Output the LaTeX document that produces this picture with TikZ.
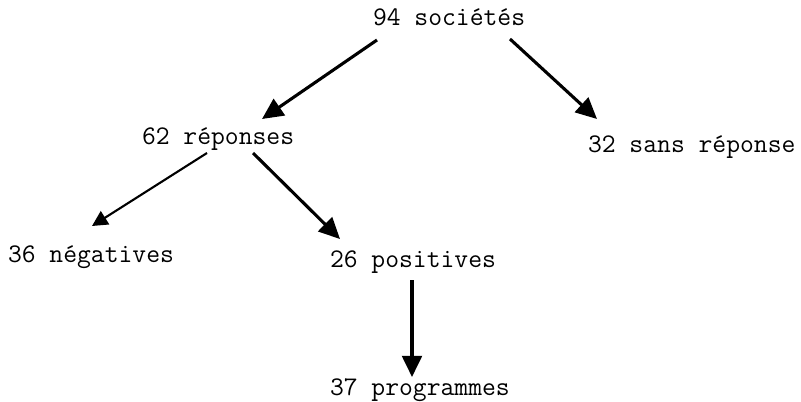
\documentclass[tikz,border=0pt]{standalone}
\usepackage{tikz}
\usetikzlibrary{arrows.meta, calc}

\begin{document}
\begin{tikzpicture}[
        x=0.025cm, y=-0.025cm,
        lbl/.style={anchor=base west, inner sep=0pt, outer sep=0pt, font=\ttfamily\fontsize{19.1}{22}\selectfont},
        treearrow/.style={-{Triangle[length=15pt, width=14pt]}, line width=2.2pt},
        thinarrow/.style={-{Triangle[length=11pt, width=11pt]}, line width=1.5pt}
    ]
        \useasboundingbox (0,0) rectangle (801,401);

        % Tree levels
        \node[lbl] (total) at (373,25) {94 sociétés};
        \node[lbl] (rep) at (142,144) {62 réponses};
        \node[lbl] (sans) at (588,152) {32 sans réponse};
        \node[lbl] (neg) at (8,262) {36 négatives};
        \node[lbl] (pos) at (330,267) {26 positives};
        \node[lbl] (prog) at (330,395) {37 programmes};

        % Arrows
        \draw[treearrow] ($(total.base west)+(4,15)$) -- ($(rep.base west)+(120,-25)$);
        \draw[treearrow] ($(total.base west)+(137,14)$) -- ($(sans.base west)+(9,-33)$);
        \draw[thinarrow] ($(rep.base west)+(65,9)$) -- ($(neg.base west)+(84,-36)$);
        \draw[treearrow] ($(rep.base west)+(111,9)$) -- ($(pos.base west)+(10,-28)$);
        \draw[treearrow] ($(pos.base west)+(82,13)$) -- ($(prog.base west)+(82,-18)$);
    \end{tikzpicture}
\end{document}
